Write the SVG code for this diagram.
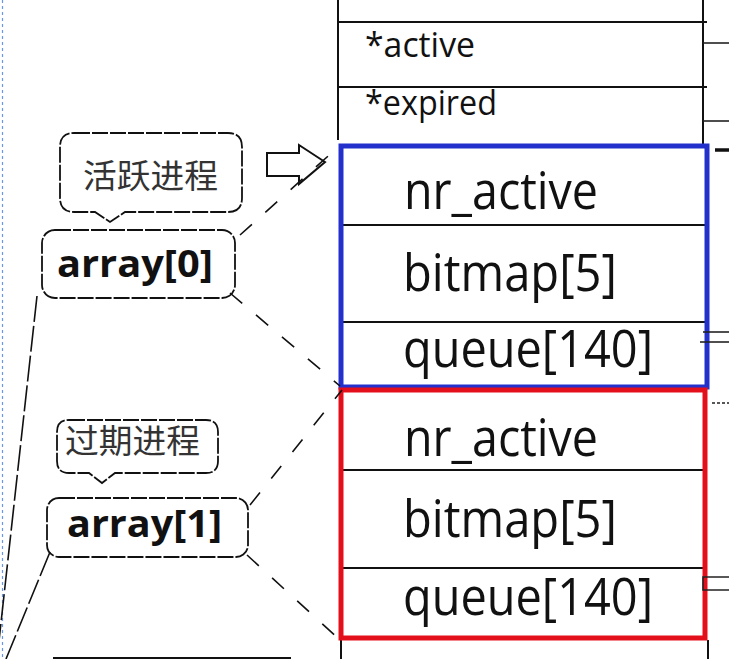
<svg xmlns="http://www.w3.org/2000/svg" width="729" height="659" viewBox="0 0 729 659">
<style>
  .tbl { stroke:#111; stroke-width:2; fill:none; }
  .thin { stroke:#222; stroke-width:1.6; fill:none; }
  .call { stroke:#111; stroke-width:1.8; fill:#fff; stroke-dasharray:16 2; }
  .dash { stroke:#111; stroke-width:1.6; fill:none; stroke-dasharray:16 18; }
  .ldash { stroke:#111; stroke-width:1.6; fill:none; stroke-dasharray:26 4; }
  .big { font-family:"Open Sans","Noto Sans",sans-serif; font-size:51px; fill:#111; }
  .mid { font-family:"Open Sans","Noto Sans",sans-serif; font-size:34px; fill:#111; }
  .cn { font-family:"Noto Sans CJK SC",sans-serif; font-size:33px; fill:#333; }
  .bold { font-family:"Open Sans","Noto Sans",sans-serif; font-size:37px; font-weight:bold; fill:#111; }
</style>
<rect width="729" height="659" fill="#fff"/>
<line x1="2.5" y1="0" x2="2.5" y2="659" stroke="#6a96e6" stroke-width="1.2" stroke-dasharray="3 3"/>

<g id="runqueue-table">
  <line class="tbl" x1="338" y1="0" x2="338" y2="140"/>
  <line class="tbl" x1="703" y1="0" x2="703" y2="145"/>
  <line class="tbl" x1="338" y1="22" x2="707" y2="22"/>
  <line class="tbl" x1="338" y1="87" x2="707" y2="87"/>
  <text class="mid" x="365" y="57" textLength="110" lengthAdjust="spacingAndGlyphs">*active</text>
  <text class="mid" x="365" y="115" textLength="132" lengthAdjust="spacingAndGlyphs">*expired</text>
  <line class="tbl" x1="341" y1="640" x2="341" y2="659"/>
  <line class="tbl" x1="708" y1="640" x2="708" y2="659"/>
</g>

<g id="array0-block">
  <line class="tbl" x1="341" y1="225" x2="707" y2="225"/>
  <line class="tbl" x1="341" y1="322" x2="707" y2="322"/>
  <rect x="341" y="146" width="366" height="241" fill="none" stroke="#2330cc" stroke-width="5"/>
  <text class="big" x="404" y="209" textLength="194" lengthAdjust="spacingAndGlyphs">nr_active</text>
  <text class="big" x="403" y="291" textLength="214" lengthAdjust="spacingAndGlyphs">bitmap[5]</text>
  <text class="big" x="403" y="367" textLength="250" lengthAdjust="spacingAndGlyphs">queue[140]</text>
</g>

<g id="array1-block">
  <line class="tbl" x1="341" y1="470" x2="705" y2="470"/>
  <line class="tbl" x1="341" y1="568" x2="705" y2="568"/>
  <rect x="341" y="390" width="364" height="248" fill="none" stroke="#e3101c" stroke-width="5"/>
  <text class="big" x="404" y="456" textLength="194" lengthAdjust="spacingAndGlyphs">nr_active</text>
  <text class="big" x="403" y="537" textLength="214" lengthAdjust="spacingAndGlyphs">bitmap[5]</text>
  <text class="big" x="403" y="615" textLength="250" lengthAdjust="spacingAndGlyphs">queue[140]</text>
</g>

<g id="callout-active">
  <path class="call" d="M74,133 H228 Q242,133 242,147 V198 Q242,212 228,212 H125 L110,222 L95,212 H74 Q60,212 60,198 V147 Q60,133 74,133 Z"/>
  <text class="cn" x="83" y="188" textLength="135" lengthAdjust="spacingAndGlyphs">活跃进程</text>
</g>

<g id="label-array0">
  <rect class="call" x="42" y="230" width="193" height="68" rx="13"/>
  <text class="bold" x="57" y="277" textLength="156" lengthAdjust="spacingAndGlyphs">array[0]</text>
</g>

<g id="callout-expired">
  <path class="call" d="M69,420 H206 Q218,420 218,432 V461 Q218,473 206,473 H115 L102,483 L89,473 H69 Q57,473 57,461 V432 Q57,420 69,420 Z"/>
  <text class="cn" x="65" y="453" textLength="135" lengthAdjust="spacingAndGlyphs">过期进程</text>
</g>

<g id="label-array1">
  <rect class="call" x="47" y="498" width="201" height="59" rx="12"/>
  <text class="bold" x="67" y="537" textLength="155" lengthAdjust="spacingAndGlyphs">array[1]</text>
</g>

<g id="block-arrow">
  <path d="M267,153 H299 V145 L325,162 L299,184 V176 H267 Z" fill="#fff" stroke="#111" stroke-width="2"/>
</g>

<g id="connectors">
  <line class="dash" x1="240" y1="235" x2="336" y2="149"/>
  <line class="dash" x1="230" y1="293" x2="340" y2="386"/>
  <line class="dash" x1="250" y1="505" x2="342" y2="390"/>
  <line class="dash" x1="247" y1="555" x2="340" y2="640"/>
  <line class="ldash" x1="37" y1="296" x2="-3" y2="659"/>
  <line class="ldash" x1="50" y1="552" x2="6" y2="659"/>
  <line class="tbl" x1="53" y1="658" x2="291" y2="658"/>
  <line class="thin" x1="703" y1="43" x2="729" y2="43"/>
  <line class="thin" x1="703" y1="121" x2="729" y2="121"/>
  <line x1="715" y1="150" x2="729" y2="150" stroke="#111" stroke-width="3.5"/>
  <line class="thin" x1="703" y1="332" x2="729" y2="332"/>
  <line class="thin" x1="700" y1="342" x2="729" y2="342"/>
  <line class="thin" x1="712" y1="403" x2="729" y2="403" stroke-dasharray="3 2"/>
  <path class="thin" d="M729,577 H703 V590 H729"/>
</g>
</svg>
